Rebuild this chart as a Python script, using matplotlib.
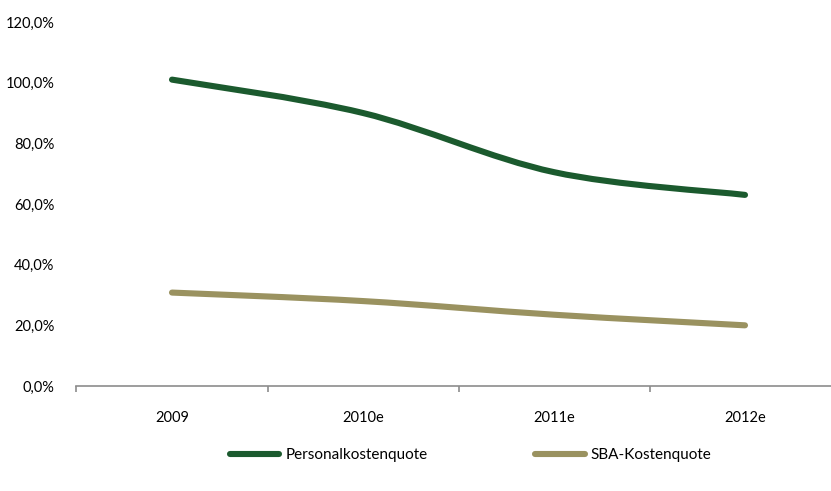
import numpy as np
import matplotlib
matplotlib.use("Agg")
import matplotlib.pyplot as plt
from matplotlib.path import Path
from matplotlib.patches import PathPatch
from matplotlib.lines import Line2D

categories = ["2009", "2010e", "2011e", "2012e"]
personal = [101.0, 90.0, 70.5, 63.0]
sba = [30.8, 28.0, 23.5, 20.0]
yticks = [0, 20, 40, 60, 80, 100, 120]

c_personal = "#1B5A2E"
c_sba = "#9A9260"

plt.rcParams['font.family'] = ['Lato', 'DejaVu Sans']

fig = plt.figure(figsize=(8.31, 4.91), dpi=100)
ax = fig.add_axes([76.5/831, 105/491, 764/831, 364/491])

def smooth_path(xs, ys):
    xs = np.asarray(xs, float); ys = np.asarray(ys, float)
    pts = np.column_stack([xs, ys])
    verts = [pts[0]]
    codes = [Path.MOVETO]
    n = len(pts)
    for i in range(n - 1):
        p0 = pts[i - 1] if i > 0 else pts[i]
        p1 = pts[i]
        p2 = pts[i + 1]
        p3 = pts[i + 2] if i + 2 < n else pts[i + 1]
        c1 = p1 + (p2 - p0) / 6.0
        c2 = p2 - (p3 - p1) / 6.0
        verts += [c1, c2, p2]
        codes += [Path.CURVE4] * 3
    return Path(verts, codes)

x = np.arange(len(categories))
for data, col in [(personal, c_personal), (sba, c_sba)]:
    patch = PathPatch(smooth_path(x, data), facecolor='none', edgecolor=col,
                      lw=4.4, capstyle='round', joinstyle='round')
    ax.add_patch(patch)

ax.set_xlim(-0.5, len(categories) - 0.5)
ax.set_ylim(0, 120)
ax.set_yticks(yticks)
ax.set_yticklabels([f"{v:.1f}%".replace('.', ',') for v in yticks])
ax.set_xticks(x)
ax.set_xticklabels(categories)
ax.set_xticks(np.arange(-0.5, len(categories)), minor=True)
ax.tick_params(axis='x', which='major', length=0, pad=18, labelsize=10.5, colors='black')
ax.tick_params(axis='x', which='minor', length=4, color='#8C8C8C', width=1.2, direction='out')
ax.tick_params(axis='y', length=0, pad=16, labelsize=10.5)
for s in ['top', 'right', 'left']:
    ax.spines[s].set_visible(False)
ax.spines['bottom'].set_color('#8C8C8C')
ax.spines['bottom'].set_linewidth(1.2)

handles = [Line2D([], [], color=c_personal, lw=4.4, solid_capstyle='round'),
           Line2D([], [], color=c_sba, lw=4.4, solid_capstyle='round')]
fig.legend(handles, ["Personalkostenquote", "SBA-Kostenquote"], loc='center',
           bbox_to_anchor=(470.5/831, 1 - 455/491), ncol=2, frameon=False,
           fontsize=11, handlelength=3.27, handletextpad=0.4, columnspacing=7.0)

fig.savefig("out.png", dpi=100)
